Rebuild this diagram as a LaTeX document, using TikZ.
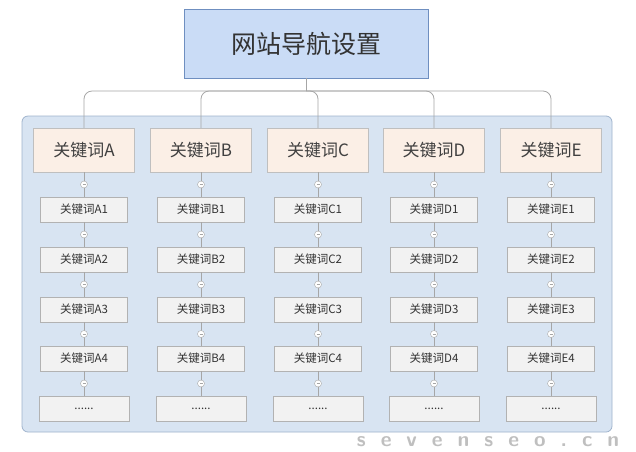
\documentclass[tikz,border=0pt]{standalone}
\usepackage{fontspec}
\newfontfamily\cjk{Noto Sans CJK SC}
\definecolor{topf}{HTML}{CADCF6}
\definecolor{topd}{HTML}{6F8FC0}
\definecolor{cont}{HTML}{D8E4F2}
\definecolor{contd}{HTML}{9FB3CC}
\definecolor{hdrf}{HTML}{FBEFE6}
\begin{document}
\begin{tikzpicture}[x=1pt,y=-1pt,font=\cjk,
 hdr/.style={draw=black!25,fill=hdrf,minimum width=101pt,minimum height=44pt,inner sep=0pt,font=\cjk\fontsize{17}{17}\selectfont,text=black!75},
 kid/.style={draw=black!30,fill=black!5,minimum width=87pt,minimum height=25pt,inner sep=0pt,font=\cjk\fontsize{11.5}{11.5}\selectfont,text=black!80},
 dot/.style={circle,draw=black!35,fill=white,minimum size=7pt,inner sep=0pt},
 ln/.style={draw=black!35,line width=0.8pt}]
\useasboundingbox (0,0) rectangle (636,451);
\fill[white] (0,0) rectangle (636,451);
\node[draw=topd,fill=topf,minimum width=244pt,minimum height=69pt,font=\cjk\fontsize{25}{25}\selectfont,text=black!80] (top) at (306,43.5) {网站导航设置};
\draw[rounded corners=6pt,draw=contd,fill=cont,line width=0.8pt] (22,116) rectangle (612,432);
\coordinate (j) at (306,91);
\draw[ln] (top.south) -- (j);
\foreach \L/\x [count=\i] in {A/84,B/201,C/318,D/434,E/551}{
 \node[hdr] (h\L) at (\x,150) {关键词\L};
 \foreach \k/\y in {1/209.5,2/259.5,3/309.5,4/358.5}{
  \node[kid] (k\L\k) at (\x,\y) {关键词\L\k};}
 \node[kid,minimum width=90pt] (k\L5) at (\x,408.5) {......};
}
\foreach \L in {A,B,C,D,E}{
 \draw[ln] (h\L.south) -- (k\L1.north);
 \draw[ln] (k\L1.south) -- (k\L2.north);
 \draw[ln] (k\L2.south) -- (k\L3.north);
 \draw[ln] (k\L3.south) -- (k\L4.north);
 \draw[ln] (k\L4.south) -- (k\L5.north);
 \path (h\L.south) -- (k\L1.north) node[midway,dot] {\tikz\draw[black!35,line width=0.5pt](0,0)--(3pt,0);};
 \foreach \a/\b in {1/2,2/3,3/4,4/5}{\path (k\L\a.south) -- (k\L\b.north) node[midway,dot] {\tikz\draw[black!35,line width=0.5pt](0,0)--(3pt,0);};}
}
\draw[ln,rounded corners=8pt] (hA.north) |- (j) -| (hE.north);
\foreach \L in {B,C,D}{\draw[ln,rounded corners=8pt] (j) -| (h\L.north);}
\node[text=black!25,font=\sffamily\fontsize{21}{21}\selectfont\bfseries] (wm) at (488,442) {s\hspace{15pt}e\hspace{15pt}v\hspace{15pt}e\hspace{15pt}n\hspace{15pt}s\hspace{15pt}e\hspace{15pt}o\hspace{15pt}.\hspace{15pt}c\hspace{15pt}n};
\end{tikzpicture}
\end{document}
